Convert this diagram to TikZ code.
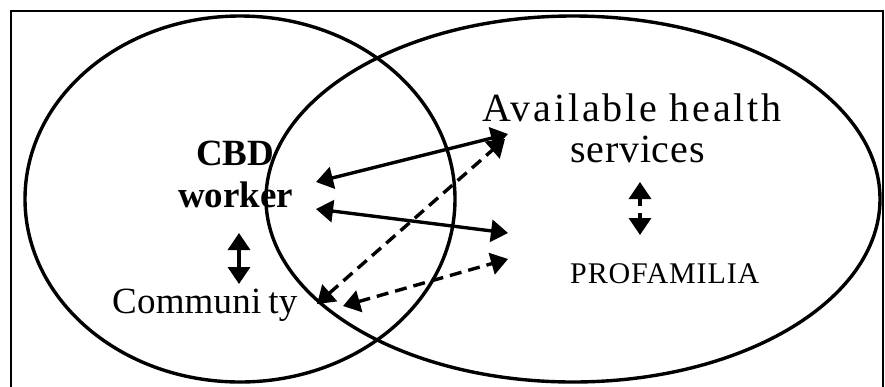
\documentclass[tikz,border=0pt]{standalone}
\usepackage{fontspec}
\setmainfont{Liberation Serif}
\usetikzlibrary{arrows.meta}
\begin{document}
\begin{tikzpicture}[x=1pt,y=-1pt,
  ring/.style={line width=3.4pt},
  tipA/.tip={Triangle[length=17pt,width=22pt]},
  conn/.style={line width=3.4pt,tipA-tipA},
  half/.style={line width=3.4pt,-tipA},
  dconn/.style={conn,dash pattern=on 12pt off 7pt},
  lbl/.style={inner sep=0pt,anchor=base west}]
\useasboundingbox (0,0) rectangle (885,386);
\fill[white] (0,0) rectangle (885,386);
\draw[line width=2.2pt] (11,387) -- (11,11) -- (883,11) -- (883,387);
\draw[ring] (240,199) ellipse [x radius=215pt, y radius=183pt];
\draw[ring] (573,199) ellipse [x radius=307pt, y radius=183pt];
% labels
\node[lbl,font=\fontsize{37}{40}\selectfont\bfseries] (cbd) at (196,165) {CBD};
\node[lbl,font=\fontsize{37}{40}\selectfont\bfseries] (worker) at (178,207) {worker};
\node[lbl,font=\fontsize{37}{40}\selectfont\addfontfeature{LetterSpace=0.5}] (comm) at (112,313) {Communi\kern7pt ty};
\node[lbl,font=\fontsize{40}{42}\selectfont\addfontfeature{LetterSpace=7}] (avail) at (482,121) {Available health};
\node[lbl,font=\fontsize{40}{42}\selectfont\addfontfeature{LetterSpace=2}] (serv) at (570,162) {services};
\node[lbl,font=\fontsize{30}{32}\selectfont\addfontfeature{LetterSpace=3}] (prof) at (570,283) {PROFAMILIA};
% connector ends
\coordinate (cbdA) at (316,182);
\coordinate (avA) at (508,134);
\coordinate (cbdB) at (316,209);
\coordinate (prB) at (508,233);
\coordinate (cmC) at (317,304);
\coordinate (avC) at (505,139);
\coordinate (cmD) at (343,306);
\coordinate (prD) at (508,259);
\coordinate (lvTop) at (239,233);
\coordinate (lvBot) at (239,284);
\coordinate (rvUpS) at (640,206);
\coordinate (rvUp) at (640,182);
\coordinate (rvDnS) at (640,213);
\coordinate (rvDn) at (640,235);
% connectors
\draw[dconn] (cmC) -- (avC);
\draw[dconn] (cmD) -- (prD);
\draw[conn] (cbdA) -- (avA);
\draw[conn] (cbdB) -- (prB);
\draw[conn] (lvTop) -- (lvBot);
\draw[half] (rvUpS) -- (rvUp);
\draw[half] (rvDnS) -- (rvDn);
\end{tikzpicture}
\end{document}
